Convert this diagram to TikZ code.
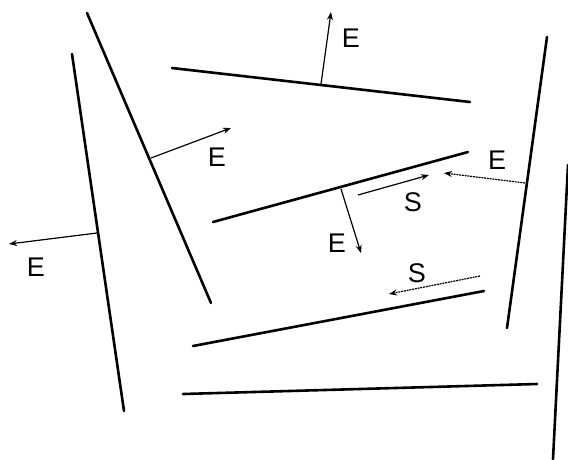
\documentclass[tikz,border=0pt]{standalone}
\usepackage{fontspec}
\setmainfont{Liberation Sans}
\usetikzlibrary{arrows.meta}
\begin{document}
\begin{tikzpicture}[x=1pt,y=-1pt,
  wall/.style={line width=2.6pt,line cap=round},
  force/.style={line width=1.2pt,-{Stealth[length=8pt,width=6pt]}},
  dforce/.style={force,dash pattern=on 2pt off 0.8pt},
  lbl/.style={font=\fontsize{27}{27}\selectfont,inner sep=0pt}]
\useasboundingbox (0,0) rectangle (568,459);
% walls
\coordinate (w1a) at (87,13);   \coordinate (w1b) at (211,303);
\coordinate (w2a) at (72,54);   \coordinate (w2b) at (124,411);
\coordinate (w3a) at (172,68);  \coordinate (w3b) at (470,102);
\coordinate (w4a) at (213,222); \coordinate (w4b) at (468,152);
\coordinate (w5a) at (547,37);  \coordinate (w5b) at (507,328);
\coordinate (w6a) at (568,165); \coordinate (w6b) at (553,459);
\coordinate (w7a) at (193,346); \coordinate (w7b) at (484,291);
\coordinate (w8a) at (183,394); \coordinate (w8b) at (537,384);
\draw[wall] (w1a) -- (w1b);
\draw[wall] (w2a) -- (w2b);
\draw[wall] (w3a) -- (w3b);
\draw[wall] (w4a) -- (w4b);
\draw[wall] (w5a) -- (w5b);
\draw[wall] (w6a) -- (w6b);
\draw[wall] (w7a) -- (w7b);
\draw[wall] (w8a) -- (w8b);
% arrow anchors
\coordinate (a1s) at (321,84);  \coordinate (a1e) at (331,12);
\coordinate (a2s) at (151,158); \coordinate (a2e) at (231,128);
\coordinate (a3s) at (525,183); \coordinate (a3e) at (444,173);
\coordinate (a4s) at (358,195); \coordinate (a4e) at (429,175);
\coordinate (a5s) at (341,189); \coordinate (a5e) at (361,253);
\coordinate (a6s) at (480,276); \coordinate (a6e) at (389,294);
\coordinate (a7s) at (97,233);  \coordinate (a7e) at (9,244);
\draw[force] (a1s) -- (a1e);
\draw[force] (a2s) -- (a2e);
\draw[dforce] (a3s) -- (a3e);
\draw[force] (a4s) -- (a4e);
\draw[force] (a5s) -- (a5e);
\draw[dforce] (a6s) -- (a6e);
\draw[force] (a7s) -- (a7e);
% labels
\node[lbl] (l1) at (351,38) {E};
\node[lbl] (l2) at (217,157) {E};
\node[lbl] (l3) at (497,160) {E};
\node[lbl] (l4) at (413,202) {S};
\node[lbl] (l5) at (337,243) {E};
\node[lbl] (l6) at (417,273) {S};
\node[lbl] (l7) at (36,267) {E};
\end{tikzpicture}
\end{document}
